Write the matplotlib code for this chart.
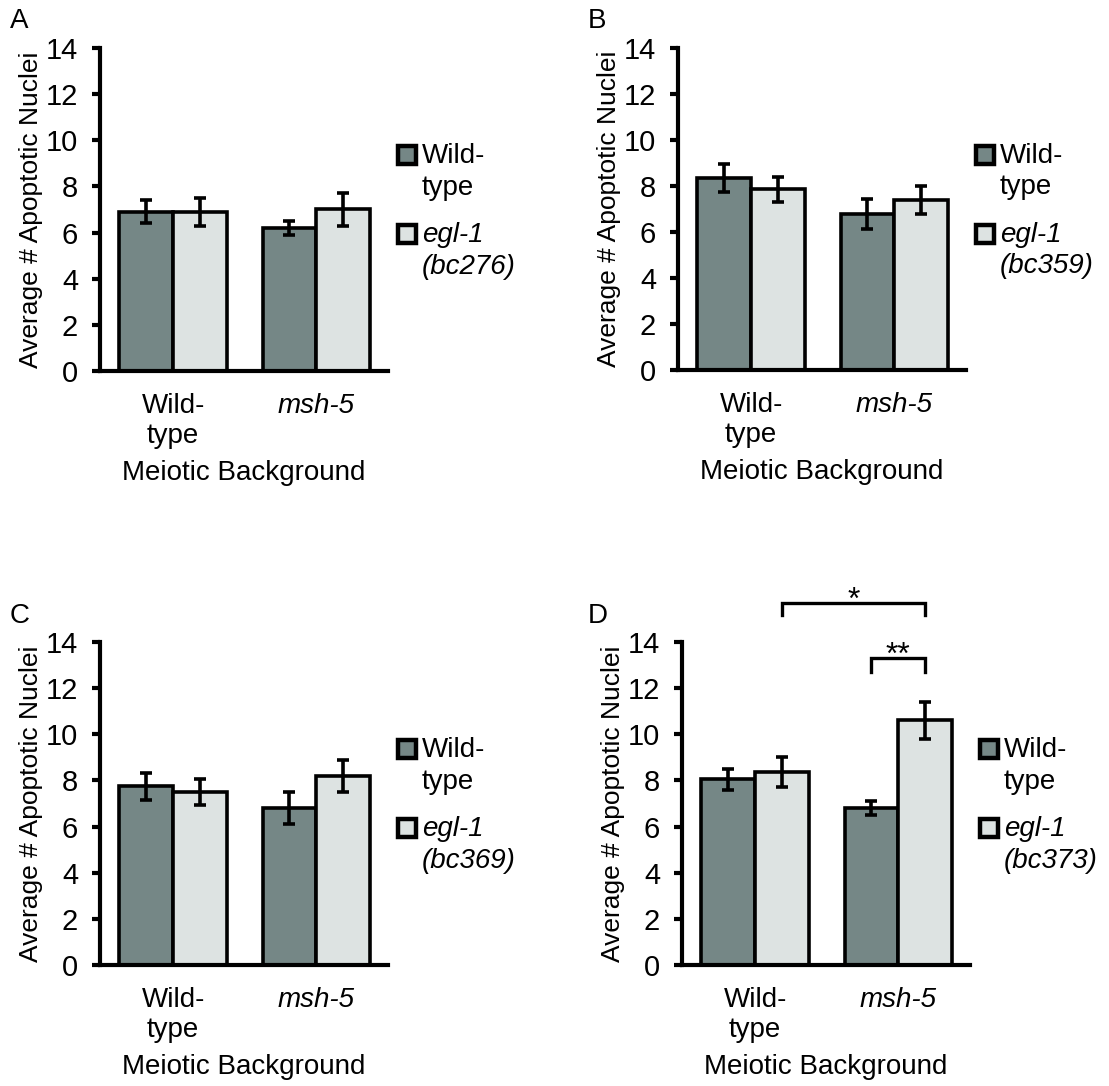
import numpy as np
import matplotlib.pyplot as plt
from matplotlib.patches import Rectangle

plt.rcParams['font.family'] = ['Liberation Sans', 'DejaVu Sans']
plt.rcParams['font.size'] = 20

# meiotic backgrounds on the x axis
backgrounds = ['Wild-\ntype', 'msh-5']
panel_letters = ['A', 'B', 'C', 'D']
alleles = ['bc276', 'bc359', 'bc369', 'bc373']

# average apoptotic nuclei, [wild-type background, msh-5 background]
wt_mean = [[6.9, 6.2], [8.35, 6.8], [7.75, 6.8], [8.05, 6.8]]
wt_err = [[0.5, 0.3], [0.6, 0.65], [0.58, 0.68], [0.45, 0.3]]
egl_mean = [[6.9, 7.0], [7.85, 7.4], [7.5, 8.2], [8.35, 10.6]]
egl_err = [[0.6, 0.7], [0.55, 0.6], [0.55, 0.68], [0.65, 0.8]]

dark = '#758786'
light = '#dde3e2'
bw = 0.375

fig = plt.figure(figsize=(11.09, 10.86), dpi=100)
W, H = 1109, 1086

# axes boxes in pixels: left, top of the 14 tick, zero line
boxes = [(100, 48, 371), (678, 48, 370), (100, 642, 965), (682, 642, 965)]
letter_pos = [(10, 28), (588, 28), (10, 623), (588, 623)]

axes = []
for i, (left, top, bottom) in enumerate(boxes):
    ax = fig.add_axes([left / W, 1 - bottom / H, 288 / W, (bottom - top) / H])
    axes.append(ax)
    x = np.arange(len(backgrounds))

    ax.bar(x - bw / 2, wt_mean[i], bw, color=dark, edgecolor='black', linewidth=2.6, zorder=2)
    ax.bar(x + bw / 2, egl_mean[i], bw, color=light, edgecolor='black', linewidth=2.6, zorder=2)
    ax.errorbar(x - bw / 2, wt_mean[i], yerr=wt_err[i], fmt='none', ecolor='black',
                elinewidth=2.6, capsize=4.3, capthick=2.6, zorder=3)
    ax.errorbar(x + bw / 2, egl_mean[i], yerr=egl_err[i], fmt='none', ecolor='black',
                elinewidth=2.6, capsize=4.3, capthick=2.6, zorder=3)

    ax.set_xlim(-0.51, 1.50)
    ax.set_ylim(0, 14)
    ax.set_yticks(np.arange(0, 15, 2))
    ax.set_xticks(x, backgrounds)
    ax.get_xticklabels()[1].set_style('italic')

    for s in ['top', 'right']:
        ax.spines[s].set_visible(False)
    for s in ['left', 'bottom']:
        ax.spines[s].set_linewidth(3)
    ax.tick_params(axis='y', direction='out', length=5.8, width=3, pad=10, labelsize=21)
    ax.tick_params(axis='x', length=0, pad=16)

    ax.set_ylabel('Average # Apoptotic Nuclei', fontsize=19, labelpad=2)
    ax.set_xlabel('Meiotic Background')
    ax.xaxis.set_label_coords(0.5, -0.275)

    # legend drawn beside the axes
    for yb, col, label, style in [(0.64, dark, 'Wild-\ntype', 'normal'),
                                  (0.395, light, 'egl-1\n(' + alleles[i] + ')', 'italic')]:
        ax.add_patch(Rectangle((1.036, yb), 0.062, 0.056, transform=ax.transAxes,
                               facecolor=col, edgecolor='black', linewidth=3.2, clip_on=False))
        ax.text(1.118, yb + 0.066, label, transform=ax.transAxes, va='top', ha='left',
                style=style, linespacing=1.28)

    lx, ly = letter_pos[i]
    fig.text(lx / W, 1 - ly / H, panel_letters[i], va='baseline', ha='left')

# significance brackets in panel D
ax = axes[3]
x_wt_egl = 0 + bw / 2
x_msh_wt = 1 - bw / 2
x_msh_egl = 1 + bw / 2
ax.plot([x_wt_egl, x_wt_egl, x_msh_egl, x_msh_egl], [15.17, 15.69, 15.69, 15.17],
        color='black', linewidth=2.4, clip_on=False, solid_joinstyle='miter')
ax.text((x_wt_egl + x_msh_egl) / 2, 15.45, '*', ha='center', va='baseline', fontsize=23)
ax.plot([x_msh_wt, x_msh_wt, x_msh_egl, x_msh_egl], [12.7, 13.3, 13.3, 12.7],
        color='black', linewidth=2.4, clip_on=False, solid_joinstyle='miter')
ax.text((x_msh_wt + x_msh_egl) / 2, 13.05, '**', ha='center', va='baseline', fontsize=23)

fig.savefig('out.png', dpi=100)
